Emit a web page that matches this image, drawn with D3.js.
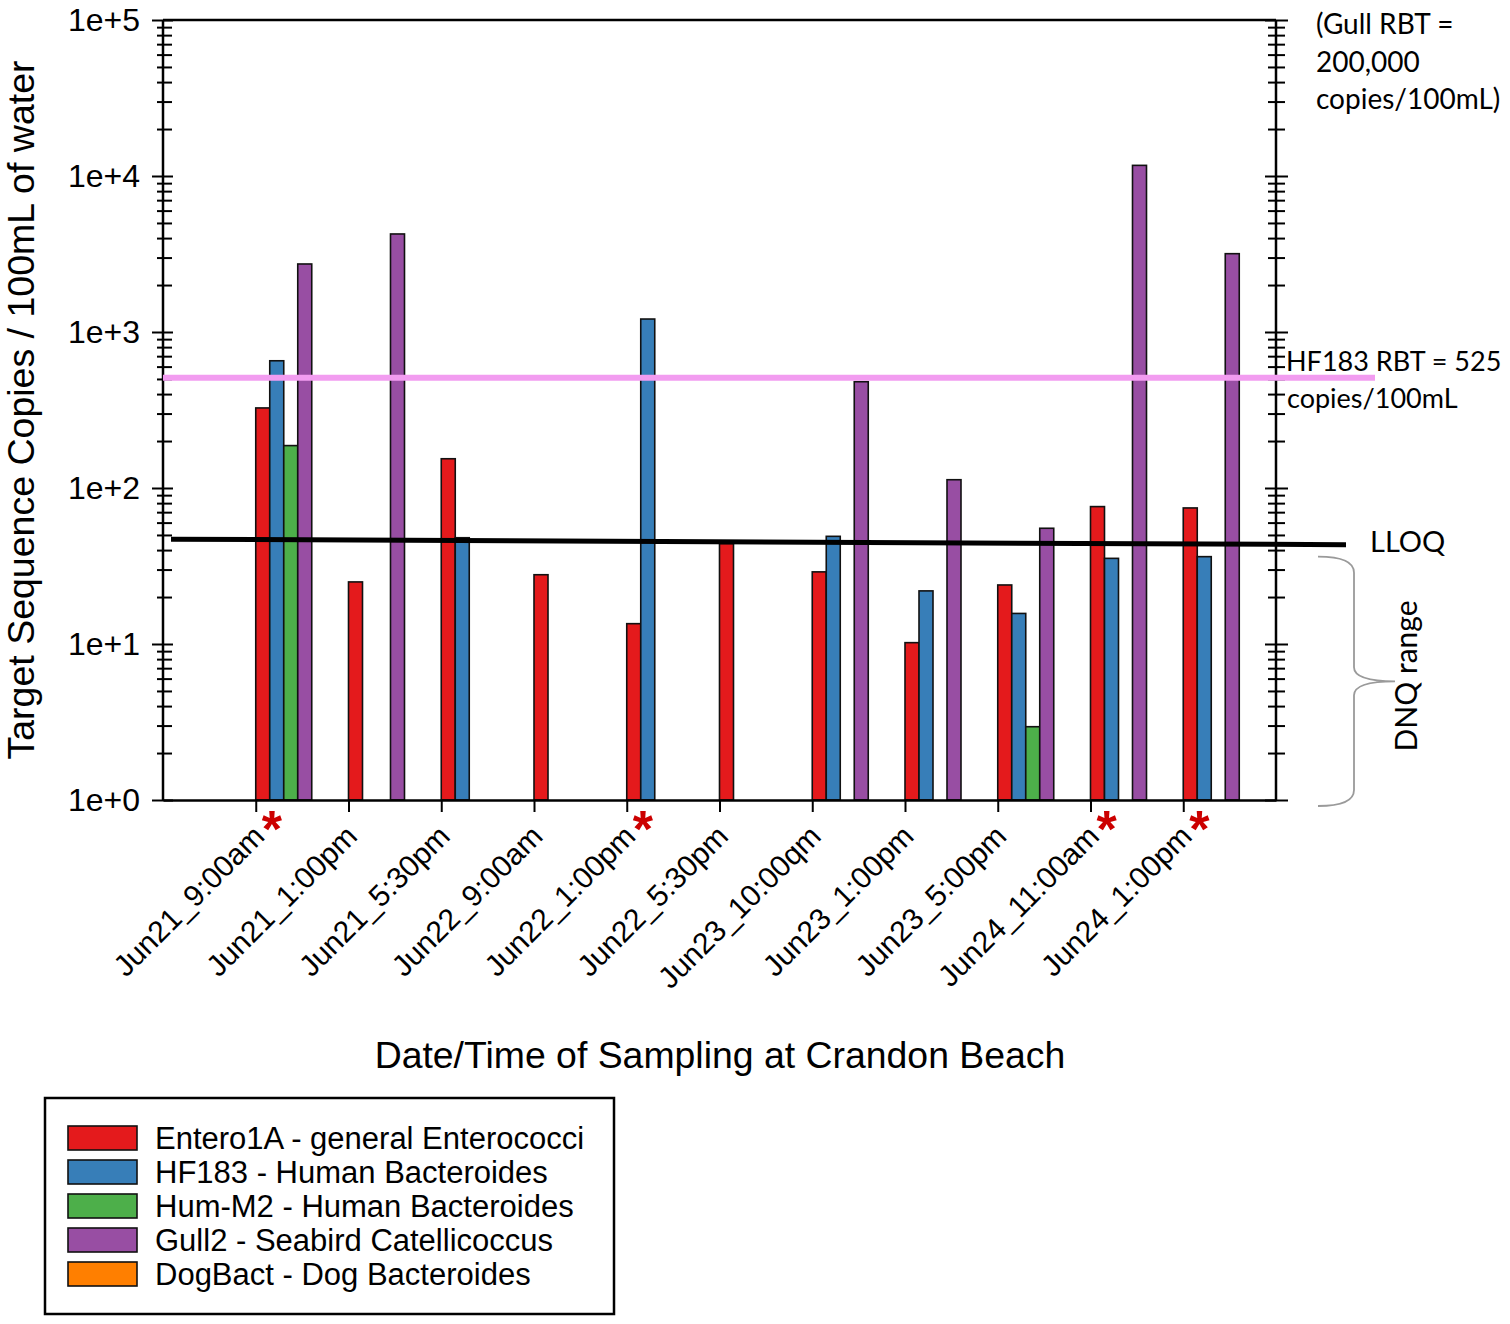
<!DOCTYPE html>
<html>
<head>
<meta charset="utf-8">
<script src="https://cdn.jsdelivr.net/npm/d3@7"></script>
<style>
  html, body { margin: 0; padding: 0; background: #fff; }
  svg { display: block; }
  .sans { font-family: "Liberation Sans", Arial, sans-serif; }
  .cal { font-family: Lato, "Open Sans", sans-serif; }
</style>
</head>
<body>
<div id="chart"></div>
<script>
// ---------------- DATA ----------------
const categories = [
  "Jun21_9:00am", "Jun21_1:00pm", "Jun21_5:30pm", "Jun22_9:00am",
  "Jun22_1:00pm", "Jun22_5:30pm", "Jun23_10:00qm", "Jun23_1:00pm",
  "Jun23_5:00pm", "Jun24_11:00am", "Jun24_1:00pm"
];
const entero1A = [326, 25, 154, 27.8, 13.5, 44, 29, 10.2, 23.9, 76, 74.5];
const hf183    = [654, null, 48, null, 1211, null, 49, 21.9, 15.7, 35.4, 36.3];
const humM2    = [187, null, null, null, null, null, null, null, 2.95, null, null];
const gull2    = [2729, 4250, null, null, null, null, 480, 113, 55.2, 11700, 3177];
const dogBact  = [null, null, null, null, null, null, null, null, null, null, null];

const seriesNames = [
  "Entero1A - general Enterococci",
  "HF183 - Human Bacteroides",
  "Hum-M2 - Human Bacteroides",
  "Gull2 - Seabird Catellicoccus",
  "DogBact - Dog Bacteroides"
];
const seriesValues = [entero1A, hf183, humM2, gull2, dogBact];
const seriesColors = ["#e41a1c", "#377eb8", "#4daf4a", "#984ea3", "#ff7f00"];

const yMajorTicks = [1, 10, 100, 1000, 10000, 100000];
const yTickLabels = ["1e+0", "1e+1", "1e+2", "1e+3", "1e+4", "1e+5"];
const flaggedSamples = ["Jun21_9:00am", "Jun22_1:00pm", "Jun24_11:00am", "Jun24_1:00pm"];
const hf183RBT = 525;
const lloqEnds = [47, 43.3];

// ---------------- LAYOUT ----------------
const W = 1510, H = 1324;
const plot = { left: 163, right: 1276, top: 20, bottom: 800 };

const svg = d3.select("#chart").append("svg")
  .attr("width", W).attr("height", H);

const x = d3.scalePoint().domain(categories).range([plot.left, plot.right]).padding(1);
const xs = d3.scaleBand().domain(d3.range(seriesNames.length)).range([0, 70]).padding(0);
const y = d3.scaleLog().domain([1, 100000]).range([plot.bottom, plot.top]);
const color = d3.scaleOrdinal().domain(seriesNames).range(seriesColors);

// minor ticks
const minorTicks = [];
yMajorTicks.slice(0, -1).forEach(m => { for (let k = 2; k <= 9; k++) minorTicks.push(m * k); });

// ---------------- BARS ----------------
const barData = categories.flatMap((c, i) =>
  seriesValues.map((vals, s) => ({ c, s, v: vals[i] }))).filter(d => d.v != null);

svg.append("g").selectAll("rect").data(barData).join("rect")
  .attr("x", d => x(d.c) + xs(d.s))
  .attr("y", d => y(d.v))
  .attr("width", xs.bandwidth())
  .attr("height", d => y(1) - y(d.v))
  .attr("fill", d => seriesColors[d.s])
  .attr("stroke", "#111")
  .attr("stroke-width", 1.6);

// ---------------- AXES ----------------
const fmt = d => yTickLabels[yMajorTicks.indexOf(d)];

function styleAxis(g) {
  g.select(".domain").remove();
  g.selectAll(".tick line").attr("stroke", "#000").attr("stroke-width", 2);
}

// left major
const gL = svg.append("g").attr("transform", `translate(${plot.left},0)`)
  .call(d3.axisLeft(y).tickValues(yMajorTicks).tickFormat(fmt).tickSize(11).tickPadding(12));
styleAxis(gL);
gL.selectAll(".tick line").attr("x1", 10);
gL.selectAll(".tick text").attr("class", "sans").attr("font-size", 32).attr("fill", "#000");

const gLm = svg.append("g").attr("transform", `translate(${plot.left},0)`)
  .call(d3.axisLeft(y).tickValues(minorTicks).tickFormat("").tickSize(6));
styleAxis(gLm);
gLm.selectAll(".tick line").attr("x1", 9);

// right
const gR = svg.append("g").attr("transform", `translate(${plot.right},0)`)
  .call(d3.axisRight(y).tickValues(yMajorTicks).tickFormat("").tickSize(12));
styleAxis(gR);
gR.selectAll(".tick line").attr("x1", -11);
const gRm = svg.append("g").attr("transform", `translate(${plot.right},0)`)
  .call(d3.axisRight(y).tickValues(minorTicks).tickFormat("").tickSize(9));
styleAxis(gRm);
gRm.selectAll(".tick line").attr("x1", -8);

// frame lines
svg.append("line").attr("x1", plot.left).attr("x2", plot.left).attr("y1", plot.top).attr("y2", plot.bottom)
  .attr("stroke", "#000").attr("stroke-width", 2.5);
svg.append("line").attr("x1", plot.right).attr("x2", plot.right).attr("y1", plot.top).attr("y2", plot.bottom)
  .attr("stroke", "#000").attr("stroke-width", 2.5);
svg.append("line").attr("x1", plot.left).attr("x2", plot.right).attr("y1", plot.top).attr("y2", plot.top)
  .attr("stroke", "#000").attr("stroke-width", 2.5);

// bottom axis
const gB = svg.append("g").attr("transform", `translate(0,${plot.bottom})`)
  .call(d3.axisBottom(x).tickSize(12).tickSizeOuter(0));
gB.select(".domain").attr("stroke", "#000").attr("stroke-width", 2.5);
gB.selectAll(".tick line").attr("stroke", "#000").attr("stroke-width", 2);
gB.selectAll(".tick text")
  .attr("class", "sans").attr("font-size", 30).attr("fill", "#000")
  .attr("x", 0).attr("y", 0).attr("dy", null)
  .attr("text-anchor", "end")
  .attr("transform", "translate(10,38) rotate(-45)");

// asterisks
svg.append("g").selectAll("text").data(flaggedSamples).join("text")
  .attr("class", "sans")
  .attr("x", d => x(d) + 16)
  .attr("y", plot.bottom + 47)
  .attr("text-anchor", "middle")
  .attr("font-size", 52)
  .attr("font-weight", "bold")
  .attr("fill", "#cc0000")
  .text("*");

// ---------------- REFERENCE LINES ----------------
svg.append("line")
  .attr("x1", plot.left).attr("x2", 1375)
  .attr("y1", y(hf183RBT) + 2).attr("y2", y(hf183RBT) + 2)
  .attr("stroke", "#f29cf0").attr("stroke-width", 6);

svg.append("line")
  .attr("x1", plot.left + 8).attr("x2", 1346)
  .attr("y1", y(lloqEnds[0])).attr("y2", y(lloqEnds[1]))
  .attr("stroke", "#000").attr("stroke-width", 5);

// ---------------- ANNOTATIONS ----------------
const gullLines = ["(Gull RBT =", "200,000", "copies/100mL)"];
svg.append("g").selectAll("text").data(gullLines).join("text")
  .attr("class", "cal").attr("font-size", 28).attr("fill", "#000")
  .attr("x", 1316).attr("y", (d, i) => 34 + i * 37.5)
  .text(d => d);

const hfLines = ["HF183 RBT = 525", "copies/100mL"];
svg.append("g").selectAll("text").data(hfLines).join("text")
  .attr("class", "cal").attr("font-size", 27).attr("fill", "#000")
  .attr("x", (d, i) => i === 0 ? 1286 : 1287)
  .attr("y", (d, i) => y(hf183RBT) - 5 + i * 37)
  .text(d => d);

svg.append("text").attr("class", "cal").attr("font-size", 29).attr("fill", "#000")
  .attr("x", 1370).attr("y", y(lloqEnds[1]) + 7).text("LLOQ");

// DNQ brace
const bTop = y(lloqEnds[1]) + 12, bBot = plot.bottom + 6, bMid = (bTop + bBot) / 2;
const bx0 = 1318, bx1 = 1354, bTip = 1395;
const brace = d3.path();
brace.moveTo(bx0, bTop);
brace.quadraticCurveTo(bx1, bTop, bx1, bTop + 16);
brace.lineTo(bx1, bMid - 14);
brace.quadraticCurveTo(bx1, bMid, bTip, bMid);
brace.quadraticCurveTo(bx1, bMid, bx1, bMid + 14);
brace.lineTo(bx1, bBot - 16);
brace.quadraticCurveTo(bx1, bBot, bx0, bBot);
svg.append("path").attr("d", brace.toString())
  .attr("fill", "none").attr("stroke", "#9a9a9a").attr("stroke-width", 1.8);

svg.append("text").attr("class", "cal").attr("font-size", 30).attr("fill", "#000")
  .attr("text-anchor", "middle")
  .attr("transform", `translate(1417,676) rotate(-90)`)
  .text("DNQ range");

// ---------------- TITLES ----------------
svg.append("text").attr("class", "sans").attr("font-size", 37.5).attr("fill", "#000")
  .attr("text-anchor", "middle")
  .attr("transform", `translate(34,${(plot.top + plot.bottom) / 2}) rotate(-90)`)
  .text("Target Sequence Copies / 100mL of water");

svg.append("text").attr("class", "sans").attr("font-size", 37.4).attr("fill", "#000")
  .attr("text-anchor", "middle")
  .attr("x", 720).attr("y", 1068)
  .text("Date/Time of Sampling at Crandon Beach");

// ---------------- LEGEND ----------------
const lg = svg.append("g");
lg.append("rect").attr("x", 45).attr("y", 1098).attr("width", 569).attr("height", 216)
  .attr("fill", "#fff").attr("stroke", "#000").attr("stroke-width", 2.5);
const items = lg.selectAll("g.item").data(seriesNames).join("g").attr("class", "item")
  .attr("transform", (d, i) => `translate(0,${1138 + i * 34})`);
items.append("rect").attr("x", 68).attr("y", -12).attr("width", 69).attr("height", 24)
  .attr("fill", d => color(d)).attr("stroke", "#111").attr("stroke-width", 1.6);
items.append("text").attr("class", "sans").attr("font-size", 31).attr("fill", "#000")
  .attr("x", 155).attr("y", 11).text(d => d);
</script>
</body>
</html>
